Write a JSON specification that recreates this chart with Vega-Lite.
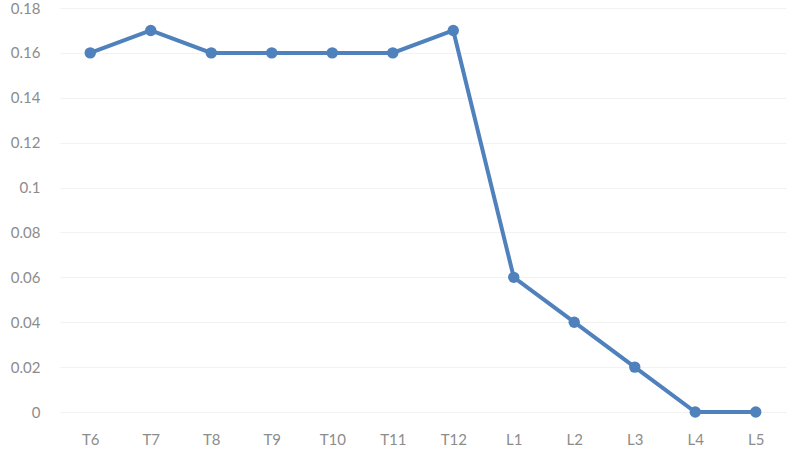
{
  "$schema": "https://vega.github.io/schema/vega-lite/v6.json",
  "autosize": {"type": "none"},
  "padding": {"left": 60, "top": 8, "right": 1, "bottom": 43},
  "width": 726,
  "height": 404,
  "background": "white",
  "data": {
    "values": [
      {"level": "T6", "value": 0.16},
      {"level": "T7", "value": 0.17},
      {"level": "T8", "value": 0.16},
      {"level": "T9", "value": 0.16},
      {"level": "T10", "value": 0.16},
      {"level": "T11", "value": 0.16},
      {"level": "T12", "value": 0.17},
      {"level": "L1", "value": 0.06},
      {"level": "L2", "value": 0.04},
      {"level": "L3", "value": 0.02},
      {"level": "L4", "value": 0},
      {"level": "L5", "value": 0}
    ]
  },
  "config": {
    "view": {"stroke": null},
    "axis": {
      "labelFont": "Lato",
      "labelFontSize": 15,
      "labelColor": "#8c8c8c",
      "domain": false,
      "ticks": false,
      "title": null
    }
  },
  "mark": {
    "type": "line",
    "color": "#4f81bd",
    "strokeWidth": 4,
    "point": {"filled": true, "size": 130, "color": "#4f81bd"}
  },
  "encoding": {
    "x": {
      "field": "level",
      "type": "ordinal",
      "sort": null,
      "scale": {"padding": 0.5},
      "axis": {"labelAngle": 0, "labelPadding": 20, "grid": false}
    },
    "y": {
      "field": "value",
      "type": "quantitative",
      "scale": {"domain": [0, 0.18], "nice": false},
      "axis": {
        "values": [0, 0.02, 0.04, 0.06, 0.08, 0.1, 0.12, 0.14, 0.16, 0.18],
        "labelExpr": "datum.value == 0 ? '0' : format(datum.value, '.2~f')",
        "labelPadding": 20,
        "grid": true,
        "gridColor": "#f2f2f2",
        "gridWidth": 1
      }
    }
  }
}
